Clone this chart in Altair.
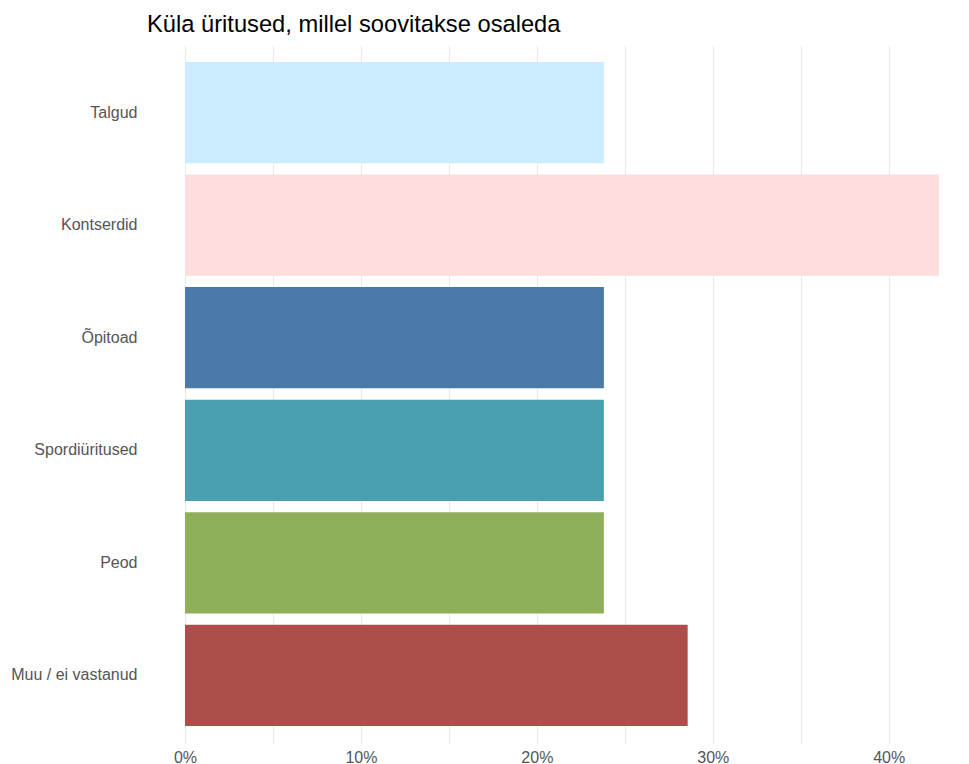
import altair as alt
import pandas as pd

categories = ["Talgud", "Kontserdid", "Õpitoad", "Spordiüritused", "Peod", "Muu / ei vastanud"]
shares = [5/21, 9/21, 5/21, 5/21, 5/21, 6/21]
colors = ["#CCECFF", "#FFDDDD", "#4A7AA8", "#4AA0B0", "#8FAF5B", "#AC4F4A"]
tick_values = [0, 0.05, 0.10, 0.15, 0.20, 0.25, 0.30, 0.35, 0.40]

df = pd.DataFrame({"cat": categories, "share": shares})

chart = alt.Chart(df).mark_bar().encode(
    y=alt.Y("cat:N", sort=categories, title=None,
            scale=alt.Scale(paddingInner=0.1, paddingOuter=0.15),
            axis=alt.Axis(labelFontSize=16, labelColor="#555555", labelFont="Liberation Sans",
                          ticks=False, domain=False, grid=False, labelPadding=48)),
    x=alt.X("share:Q", title=None,
            scale=alt.Scale(domain=[0, 9/21], nice=False, zero=True),
            axis=alt.Axis(values=tick_values, format=".0%",
                          labelExpr="(round(datum.value*100) % 10 == 0) ? datum.label : ''",
                          labelFontSize=16, labelColor="#555555", labelFont="Liberation Sans",
                          ticks=False, domain=False, grid=True, gridColor="#EBEBEB",
                          gridWidth=1.2, labelPadding=6, labelFlush=False)),
    color=alt.Color("cat:N", scale=alt.Scale(domain=categories, range=colors), legend=None),
).properties(
    width=754, height=698,
    padding={"left": 2, "top": 5, "right": 0, "bottom": 0},
    title=alt.Title("Küla üritused, millel soovitakse osaleda", anchor="start", frame="group",
                    dx=-38, fontSize=23.7, font="Liberation Sans", fontWeight="normal",
                    color="#000000", offset=8),
).configure_view(stroke=None)

chart.save("out.html", embed_options={"renderer": "svg", "actions": False})
